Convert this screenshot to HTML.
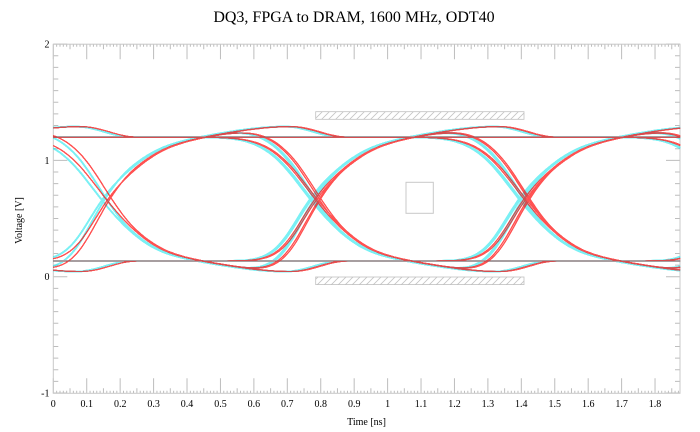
<!DOCTYPE html>
<html><head><meta charset="utf-8"><style>
html,body{margin:0;padding:0;background:#fff;}
svg{display:block;}
text{font-family:"Liberation Serif","Times New Roman",serif;fill:#000;}
</style></head><body>
<svg id="s" width="700" height="432" viewBox="0 0 700 432" xmlns="http://www.w3.org/2000/svg">
<defs>
<pattern id="hatch" patternUnits="userSpaceOnUse" width="7" height="7">
<path d="M-1,8 L8,-1 M-1,1 L1,-1 M6,8 L8,6" stroke="#c4c4c4" stroke-width="0.8"/>
</pattern>
</defs>
<rect width="700" height="432" fill="#fff"/>
<text x="354" y="22" font-size="16" text-anchor="middle">DQ3, FPGA to DRAM, 1600 MHz, ODT40</text>
<path id="tk" d="" stroke="#bdbdbd" stroke-width="1" fill="none"/>
<rect x="53.3" y="44.2" width="626.7" height="349.1" fill="none" stroke="#c8c8c8" stroke-width="1"/>
<rect x="315.7" y="111.7" width="208.3" height="7.6" fill="url(#hatch)" stroke="#c0c0c0" stroke-width="0.8"/>
<rect x="315.7" y="277" width="208.3" height="7.6" fill="url(#hatch)" stroke="#c0c0c0" stroke-width="0.8"/>
<rect x="406" y="182.3" width="27.3" height="31" fill="none" stroke="#c8c8c8" stroke-width="1"/>
<g id="cy" fill="none" stroke="#10e4ec" stroke-width="1.6" opacity="0.55" stroke-linejoin="round"></g>
<g id="rd" fill="none" stroke="#ff0000" stroke-width="1" opacity="0.68" stroke-linejoin="round"></g>
<g font-size="10" text-anchor="end">
<text x="49.5" y="47.6">2</text>
<text x="49.5" y="164">1</text>
<text x="49.5" y="280.2">0</text>
<text x="49.5" y="396.5">-1</text>
</g>
<g font-size="10" text-anchor="middle">
<text x="53.3" y="407">0</text>
<text x="86.7" y="407">0.1</text>
<text x="120.2" y="407">0.2</text>
<text x="153.6" y="407">0.3</text>
<text x="187.0" y="407">0.4</text>
<text x="220.5" y="407">0.5</text>
<text x="253.9" y="407">0.6</text>
<text x="287.3" y="407">0.7</text>
<text x="320.7" y="407">0.8</text>
<text x="354.2" y="407">0.9</text>
<text x="387.6" y="407">1</text>
<text x="421.0" y="407">1.1</text>
<text x="454.5" y="407">1.2</text>
<text x="487.9" y="407">1.3</text>
<text x="521.3" y="407">1.4</text>
<text x="554.8" y="407">1.5</text>
<text x="588.2" y="407">1.6</text>
<text x="621.6" y="407">1.7</text>
<text x="655.0" y="407">1.8</text>
</g>
<text x="366.5" y="425" font-size="10" text-anchor="middle">Time [ns]</text>
<text transform="translate(22,220.5) rotate(-90)" font-size="10" text-anchor="middle">Voltage [V]</text>
</svg>
<script>
(function(){
var NS='http://www.w3.org/2000/svg';
function X(t){return 53.3+t*334.3;}
function Y(v){return 276.7-v*116.3;}
var tk='';
for(var i=0;i<=187;i++){var x=X(i*0.01).toFixed(2);var L=(i%10==0)?15:((i%5==0)?5:2.5);
 tk+='M'+x+' 393.3v-'+L+'M'+x+' 44.2v'+L;}
for(var n=-10;n<=20;n++){var y=Y(n*0.1).toFixed(2);var L2=(n%10==0)?14:5;
 tk+='M53.3 '+y+'h'+L2+'M680 '+y+'h-'+L2;}
document.getElementById('tk').setAttribute('d',tk);

function erf(x){var s=x<0?-1:1;x=Math.abs(x);var t=1/(1+0.3275911*x);
 var y=1-(((((1.061405429*t-1.453152027)*t)+1.421413741)*t-0.284496736)*t+0.254829592)*t*Math.exp(-x*x);return s*y;}
var A=0.085;
function h(u,dir){
 var sg=dir>0?(0.15+0.04*Math.tanh(u/0.08)):(0.165+0.015*Math.tanh(u/0.08));
 var e=0.5*(1+erf(u/sg));var b=0;
 if(u>0.2&&u<=0.55)b=A*0.5*(1-Math.cos(Math.PI*(u-0.2)/0.35));
 else if(u>0.55&&u<0.72)b=A*0.5*(1+Math.cos(Math.PI*(u-0.55)/0.17));
 return e+b;}
function build(gid,T0,jit){
 var g=document.getElementById(gid);
 for(var m=0;m<64;m++){
  var b=[];for(var k=0;k<6;k++)b.push((m>>k)&1);
  var tr=[];
  for(var j=1;j<6;j++){var dj=b[j]-b[j-1];if(!dj)continue;
   var Tj=T0+(j-2)*0.625;
   var c=(j>=3)?(b[j-2]==b[j-3]):(j==2?(b[0]==0):false);
   if(c)Tj+=jit;
   tr.push([dj,Tj]);}
  var d='';
  for(var i=0;i<=300;i++){var t=i*1.875/300;var s=b[0];
   for(var q=0;q<tr.length;q++)s+=tr[q][0]*h(t-tr[q][1],tr[q][0]);
   var v=0.135+1.065*s;d+=(i?'L':'M')+X(t).toFixed(1)+' '+Y(v).toFixed(1);}
  var p=document.createElementNS(NS,'path');p.setAttribute('d',d);g.appendChild(p);
 }
}
build('cy',0.143,0.005);
build('rd',0.158,0.006);
})();
</script>
</body></html>
